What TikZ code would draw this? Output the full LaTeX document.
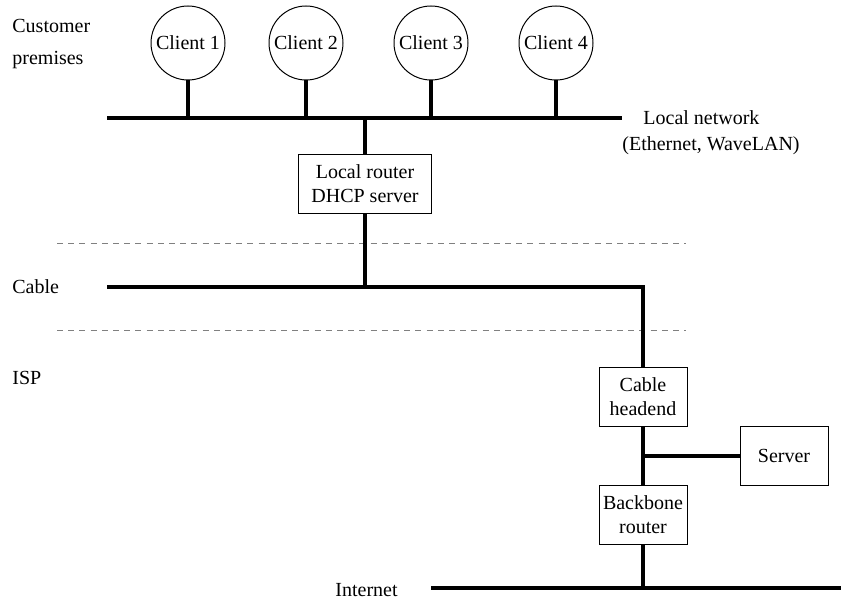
\documentclass[tikz,border=0pt]{standalone}
\usepackage{fontspec}
\setmainfont{Liberation Serif}
\usepackage{tikz}
\usetikzlibrary{positioning}

\begin{document}
\begin{tikzpicture}[x=0.5pt,y=-0.5pt,
	wire/.style={line width=2pt,line join=miter},
	client/.style={circle,draw,line width=0.5pt,inner sep=0pt,minimum size=37pt},
	box/.style={draw,line width=0.5pt,align=center,inner sep=0pt,minimum height=29.5pt},
	divider/.style={gray,line width=0.5pt,dash pattern=on 3pt off 2.6pt},
	zone/.style={anchor=west,align=left,inner sep=0pt}]
	\useasboundingbox (0,0) rectangle (841,599);
	\node[zone,font=\linespread{1.3}\selectfont] (premises) at (12,44) {Customer\\premises};
	\node[zone] (cablelbl) at (12,287) {Cable};
	\node[zone] (isplbl) at (12,378) {ISP};
	\node[zone] (inetlbl) at (335,590) {Internet};
	\node[zone] (lanlbl) at (643,118) {Local network};
	\node[zone] (lantype) at (622,146) {(Ethernet, WaveLAN)};
	\coordinate (lanL) at (107,118);
	\coordinate (lanR) at (622,118);
	\coordinate (cableL) at (107,287);
	\coordinate (cableR) at (643,287);
	\coordinate (inetL) at (431,588);
	\coordinate (inetR) at (841,588);
	\coordinate (div1L) at (57,243);
	\coordinate (div1R) at (686,243);
	\coordinate (div2L) at (57,330);
	\coordinate (div2R) at (686,330);
	\foreach \i/\x in {1/188,2/306,3/431,4/556}
		\node[client] (c\i) at (\x,43) {Client \i};
	\node[box,minimum width=66.5pt] (router) at (365,184) {Local router\\DHCP server};
	\node[box,minimum width=44pt] (headend) at (643,397) {Cable\\headend};
	\node[box,minimum width=44pt] (backbone) at (643,514.5) {Backbone\\router};
	\node[box,minimum width=44pt] (server) at (784,456) {Server};
	\draw[divider] (div1L) -- (div1R);
	\draw[divider] (div2L) -- (div2R);
	\draw[wire] (lanL) -- (lanR);
	\foreach \i in {1,...,4}
		\draw[wire] (c\i) -- (c\i |- lanL);
	\draw[wire] (router) -- (router |- lanL);
	\draw[wire] (router) -- (router |- cableL);
	\draw[wire] (cableL) -- (cableR) -- (headend);
	\draw[wire] (headend) -- (backbone);
	\draw[wire] (server.west) -- (server.west -| headend);
	\draw[wire] (backbone) -- (backbone |- inetL);
	\draw[wire] (inetL) -- (inetR);
\end{tikzpicture}
\end{document}
